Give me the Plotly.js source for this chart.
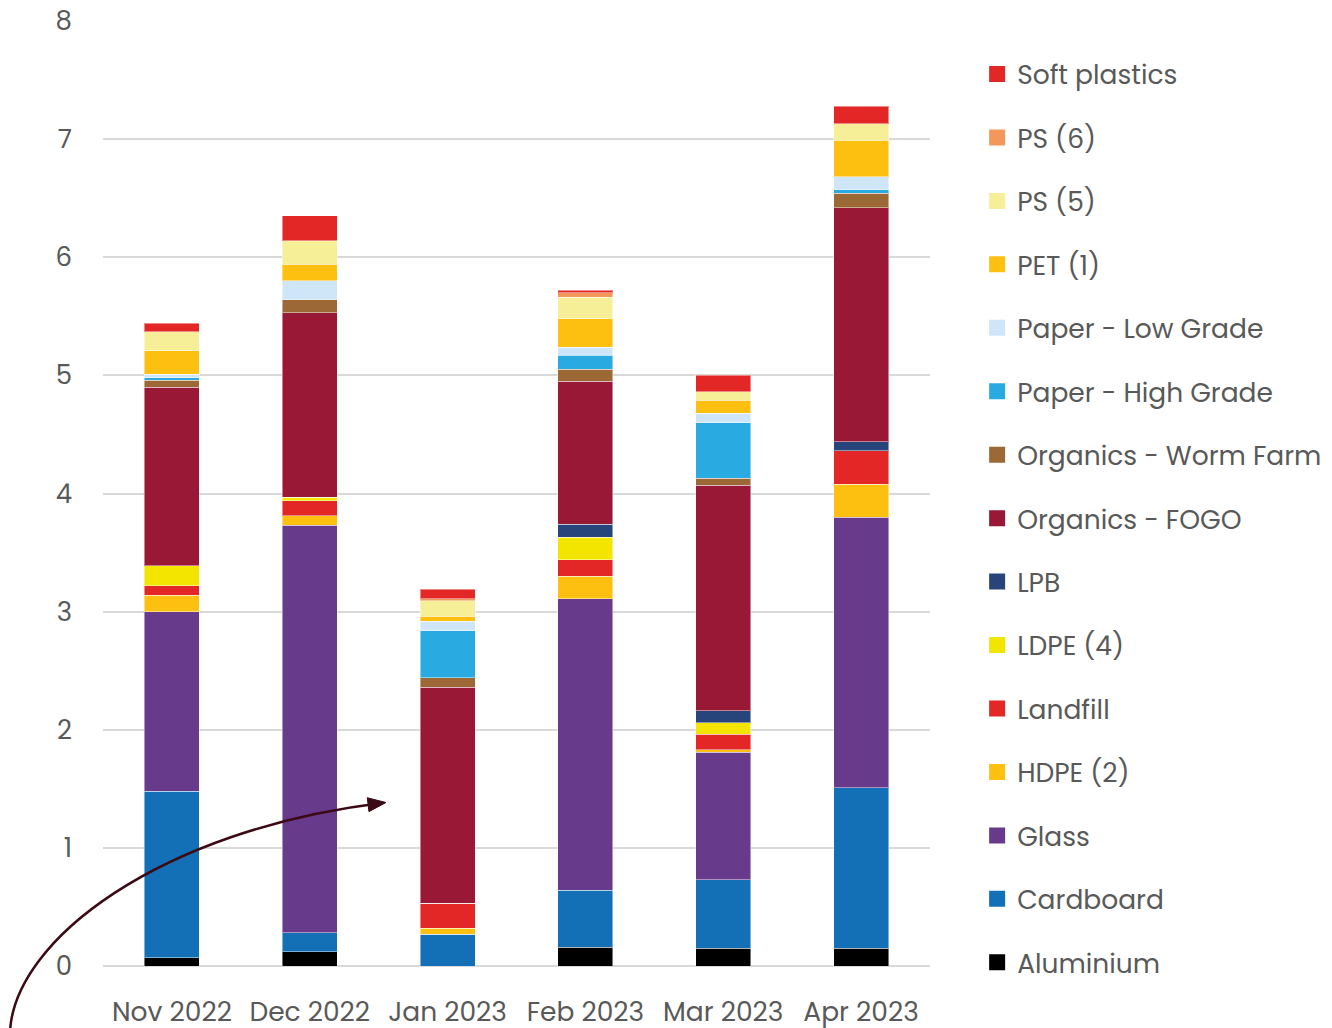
<!DOCTYPE html>
<html>
<head>
<meta charset="utf-8">
<script src="https://cdn.plot.ly/plotly-3.0.1.min.js"></script>
<style>
  html, body { margin: 0; padding: 0; background: #ffffff; }
  #chart { width: 1332px; height: 1028px; }
</style>
</head>
<body>
<div id="chart"></div>
<script>
// Monthly waste streams (tonnes), stacked by material
const months = ["Nov 2022", "Dec 2022", "Jan 2023", "Feb 2023", "Mar 2023", "Apr 2023"];

const aluminium     = [0.07, 0.12, 0.00, 0.16, 0.15, 0.15];
const cardboard     = [1.41, 0.16, 0.27, 0.48, 0.58, 1.36];
const glass         = [1.52, 3.45, 0.00, 2.47, 1.08, 2.29];
const hdpe2         = [0.14, 0.08, 0.05, 0.19, 0.02, 0.28];
const landfill      = [0.08, 0.13, 0.21, 0.14, 0.13, 0.28];
const ldpe4         = [0.17, 0.03, 0.00, 0.19, 0.10, 0.00];
const lpb           = [0.00, 0.00, 0.00, 0.11, 0.10, 0.08];
const organicsFogo  = [1.51, 1.56, 1.83, 1.21, 1.91, 1.98];
const organicsWorm  = [0.06, 0.11, 0.08, 0.10, 0.06, 0.12];
const paperHigh     = [0.02, 0.00, 0.40, 0.12, 0.47, 0.03];
const paperLow      = [0.03, 0.16, 0.08, 0.07, 0.08, 0.11];
const pet1          = [0.20, 0.14, 0.04, 0.24, 0.11, 0.31];
const ps5           = [0.16, 0.20, 0.13, 0.18, 0.07, 0.14];
const ps6           = [0.00, 0.00, 0.02, 0.04, 0.00, 0.00];
const softPlastics  = [0.07, 0.21, 0.08, 0.02, 0.14, 0.15];

// Stack order bottom -> top
const seriesNames = ["Aluminium", "Cardboard", "Glass", "HDPE (2)", "Landfill", "LDPE (4)", "LPB",
  "Organics - FOGO", "Organics - Worm Farm", "Paper - High Grade", "Paper - Low Grade",
  "PET (1)", "PS (5)", "PS (6)", "Soft plastics"];
const seriesValues = [aluminium, cardboard, glass, hdpe2, landfill, ldpe4, lpb,
  organicsFogo, organicsWorm, paperHigh, paperLow, pet1, ps5, ps6, softPlastics];
const seriesColors = ["#000000", "#1370b7", "#673a8c", "#fdc010", "#e32726", "#f3e500", "#27457a",
  "#981835", "#9b6836", "#29abe2", "#cfe6f8", "#fdc010", "#f7ee98", "#f4975a", "#e32726"];

const barTraces = seriesNames.map((name, i) => ({
  type: "bar",
  name: name,
  x: months,
  y: seriesValues[i],
  legendgroup: name,
  showlegend: false,
  marker: { color: seriesColors[i], line: { color: "rgba(255,255,255,0.45)", width: 1 } },
  hovertemplate: "%{x}<br>" + name + ": %{y}<extra></extra>"
}));

// Legend entries with larger square swatches, top of stack listed first
const legendTraces = seriesNames.map((name, i) => ({
  type: "scatter",
  mode: "markers",
  name: name,
  x: [null],
  y: [null],
  legendgroup: name,
  legendrank: 1000 - i,
  marker: { symbol: "square", size: 16, color: seriesColors[i] },
  hoverinfo: "skip"
}));

// Curved pointer drawn in pixel space, then converted to paper coordinates
const plotL = 103, plotR = 930, plotT = 21, plotB = 966;
const px = (x) => (x - plotL) / (plotR - plotL);
const py = (y) => (plotB - y) / (plotB - plotT);
const p0 = [10, 1032], c1 = [14, 940], c2 = [160, 830], p1 = [382, 803];
const curvePath = `M ${px(p0[0])},${py(p0[1])} C ${px(c1[0])},${py(c1[1])} ${px(c2[0])},${py(c2[1])} ${px(p1[0])},${py(p1[1])}`;
const dx = p1[0] - c2[0], dy = p1[1] - c2[1];
const len = Math.hypot(dx, dy), ux = dx / len, uy = dy / len;
const tip = [p1[0] + ux * 4, p1[1] + uy * 4];
const back = [tip[0] - ux * 18, tip[1] - uy * 18];
const nx = -uy, ny = ux;
const headPath = `M ${px(tip[0])},${py(tip[1])} L ${px(back[0] + nx * 7)},${py(back[1] + ny * 7)} L ${px(back[0] - nx * 7)},${py(back[1] - ny * 7)} Z`;

const layout = {
  width: 1332,
  height: 1028,
  barmode: "stack",
  bargap: 0.6,
  paper_bgcolor: "#ffffff",
  plot_bgcolor: "#ffffff",
  margin: { l: plotL, r: 1332 - plotR, t: plotT, b: 1028 - plotB, autoexpand: false },
  font: { family: "Poppins, Inter, 'Open Sans', sans-serif", color: "#595959", size: 26 },
  xaxis: {
    type: "category",
    tickfont: { size: 26.5, color: "#595959" },
    showgrid: false,
    showline: false,
    ticks: "",
    ticklabelstandoff: 27,
    automargin: false
  },
  yaxis: {
    range: [0, 8],
    dtick: 1,
    tickfont: { size: 26, color: "#595959" },
    gridcolor: "#d9d9d9",
    gridwidth: 2,
    zeroline: true,
    zerolinecolor: "#d9d9d9",
    zerolinewidth: 2,
    ticks: "",
    ticklabelstandoff: 30,
    automargin: false
  },
  legend: {
    x: 1.057,
    xanchor: "left",
    y: 0.969,
    yanchor: "top",
    traceorder: "grouped",
    tracegroupgap: 26,
    font: { size: 26.5, color: "#595959" },
    itemwidth: 30,
    bgcolor: "rgba(0,0,0,0)"
  },
  shapes: [
    { type: "path", xref: "paper", yref: "paper", path: curvePath,
      line: { color: "#3b0a14", width: 2.5 }, layer: "above" },
    { type: "path", xref: "paper", yref: "paper", path: headPath,
      fillcolor: "#3b0a14", line: { color: "#3b0a14", width: 1 }, layer: "above" }
  ],
  showlegend: true
};

Plotly.newPlot("chart", barTraces.concat(legendTraces), layout, { displayModeBar: false, staticPlot: true });
</script>
</body>
</html>
